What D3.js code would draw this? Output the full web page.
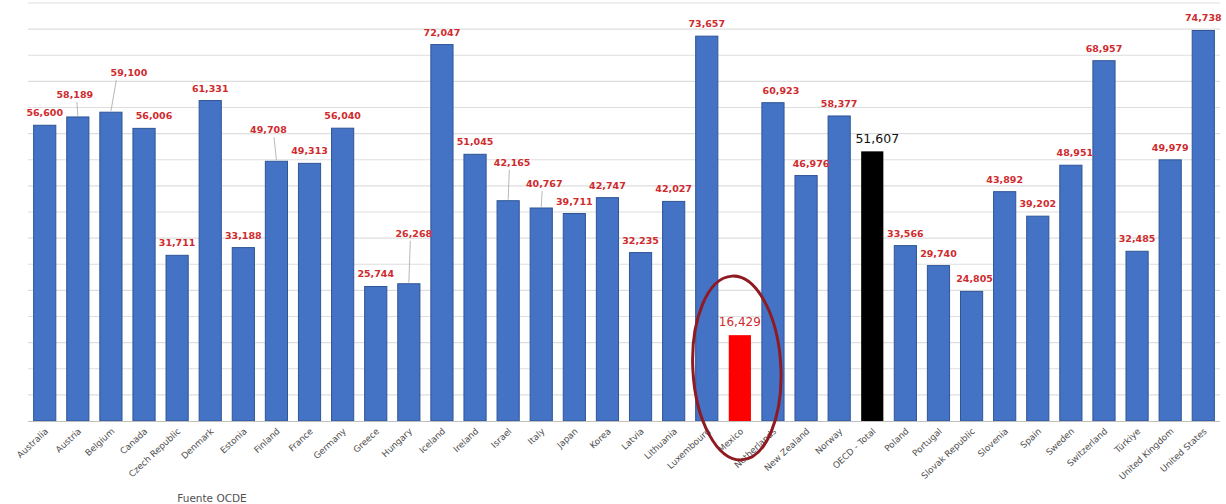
<!DOCTYPE html>
<html>
<head>
<meta charset="utf-8">
<script src="https://cdn.jsdelivr.net/npm/d3@7"></script>
<style>
	body { margin: 0; background: #fff; }
	svg { display: block; }
	.value { font-family: "DejaVu Sans", sans-serif; font-weight: bold; font-size: 9.5px; fill: #cf2b2e; }
	.cat { font-family: "DejaVu Sans", sans-serif; font-size: 8.8px; fill: #505050; }
</style>
</head>
<body>
<div id="chart"></div>
<script>
// Salario medio anual (USD), OCDE
const countries = ['Australia', 'Austria', 'Belgium', 'Canada', 'Czech Republic', 'Denmark', 'Estonia',
	'Finland', 'France', 'Germany', 'Greece', 'Hungary', 'Iceland', 'Ireland', 'Israel', 'Italy', 'Japan',
	'Korea', 'Latvia', 'Lithuania', 'Luxembourg', 'Mexico', 'Netherlands', 'New Zealand', 'Norway',
	'OECD - Total', 'Poland', 'Portugal', 'Slovak Republic', 'Slovenia', 'Spain', 'Sweden', 'Switzerland',
	'Türkiye', 'United Kingdom', 'United States'];
const wages = [56600, 58189, 59100, 56006, 31711, 61331, 33188, 49708, 49313, 56040, 25744, 26268, 72047,
	51045, 42165, 40767, 39711, 42747, 32235, 42027, 73657, 16429, 60923, 46976, 58377, 51607, 33566, 29740,
	24805, 43892, 39202, 48951, 68957, 32485, 49979, 74738];
const yTicks = d3.range(0, 80001, 5000);

const W = 1226, H = 504;
const margin = { top: 3, right: 6, bottom: 83, left: 28 };
const BLUE = '#4472c4', EDGE = '#2f5597';

// labels that Excel pushed away from their bar (with a leader line)
const nudge = {
	'Austria': [-3, -10], 'Belgium': [18, -27], 'Finland': [-8, -19], 'Hungary': [5, -38],
	'Israel': [4, -26], 'Italy': [3, -12], 'Canada': [10, 0], 'New Zealand': [5, 0],
	'Netherlands': [8, 0], 'Sweden': [4, 0], 'Slovak Republic': [3, 0]
};

const svg = d3.select('#chart').append('svg')
	.attr('width', W).attr('height', H);

const x = d3.scaleBand()
	.domain(countries)
	.range([margin.left, W - margin.right])
	.paddingInner(0.33).paddingOuter(0.17);
const y = d3.scaleLinear()
	.domain([0, 80000])
	.range([H - margin.bottom, margin.top]);

// grid
svg.append('g').selectAll('line')
	.data(yTicks.slice(1))
	.enter().append('line')
	.attr('x1', margin.left).attr('x2', W - margin.right)
	.attr('y1', d => y(d)).attr('y2', d => y(d))
	.attr('stroke', '#dedede').attr('stroke-width', 1.2);

function barColor(c) {
	if (c === 'Mexico') return '#ff0000';
	if (c === 'OECD - Total') return '#000';
	return BLUE;
}

svg.append('g').selectAll('rect')
	.data(countries)
	.enter().append('rect')
	.attr('x', d => x(d))
	.attr('width', x.bandwidth())
	.attr('y', (d, i) => y(wages[i]))
	.attr('height', (d, i) => y(0) - y(wages[i]))
	.attr('fill', barColor)
	.attr('stroke', d => barColor(d) === BLUE ? EDGE : 'none')
	.attr('stroke-width', 1);

// axis line
svg.append('line')
	.attr('x1', margin.left).attr('x2', W - margin.right)
	.attr('y1', y(0) + 0.5).attr('y2', y(0) + 0.5)
	.attr('stroke', '#bfbfbf').attr('stroke-width', 1.2);

// value labels + leader lines
const lab = svg.append('g');
countries.forEach((c, i) => {
	const cx = x(c) + x.bandwidth() / 2;
	const top = y(wages[i]);
	const [dx, dy] = nudge[c] || [0, 0];
	const ty = top - 9 + dy;
	if (dy < -5) {
		lab.append('line')
			.attr('x1', cx + dx * 0.3).attr('y1', ty + 4)
			.attr('x2', cx).attr('y2', top - 1)
			.attr('stroke', '#a6a6a6').attr('stroke-width', 0.8);
	}
	const t = lab.append('text')
		.attr('x', cx + dx).attr('y', ty)
		.attr('text-anchor', 'middle')
		.attr('class', 'value')
		.text(d3.format(',')(wages[i]));
	if (c === 'OECD - Total') {
		t.attr('x', cx + 5).attr('y', top - 8)
			.style('fill', '#111').style('font-weight', 'normal').style('font-size', '12.5px');
	}
	if (c === 'Mexico') {
		t.attr('y', top - 9).style('font-weight', 'normal').style('font-size', '12px');
	}
});

// category labels
svg.append('g').selectAll('text')
	.data(countries)
	.enter().append('text')
	.attr('class', 'cat')
	.attr('text-anchor', 'end')
	.attr('transform', d => `translate(${x(d) + x.bandwidth() / 2 + 4},${y(0) + 11}) rotate(-43)`)
	.text(d => d);

// red ellipse round Mexico
const mx = x('Mexico') + x.bandwidth() / 2 - 3;
svg.append('ellipse')
	.attr('cx', mx).attr('cy', y(0) - 53)
	.attr('rx', 44).attr('ry', 92)
	.attr('transform', `rotate(-3 ${mx} ${y(0) - 53})`)
	.attr('fill', 'none')
	.attr('stroke', '#8e1b22').attr('stroke-width', 3);

svg.append('text')
	.attr('x', 212).attr('y', 502)
	.attr('text-anchor', 'middle')
	.attr('class', 'cat')
	.style('font-size', '10.5px')
	.text('Fuente OCDE');
</script>
</body>
</html>
